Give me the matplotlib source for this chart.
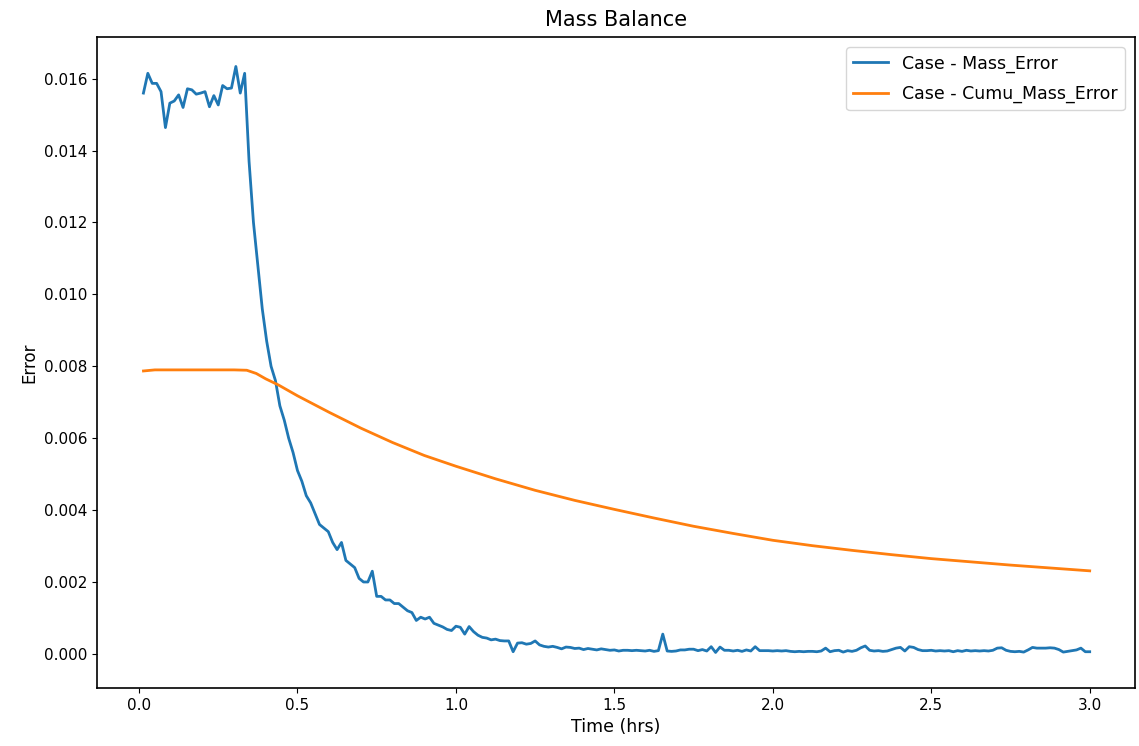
import numpy as np
import matplotlib
matplotlib.use("Agg")
import matplotlib.pyplot as plt

# Time step of the blue series: 1/72 hr (50 s), 216 samples to 3.0 hrs
mass_error = [
    0.01560, 0.01615, 0.01587, 0.01587, 0.01564, 0.01464, 0.01532, 0.01538, 0.01555, 0.01520,
    0.01572, 0.01569, 0.01557, 0.01560, 0.01564, 0.01522, 0.01553, 0.01527, 0.01581, 0.01572,
    0.01574, 0.01634, 0.01560, 0.01615, 0.01370, 0.01200, 0.01080, 0.00960, 0.00870, 0.00800,
    0.00760, 0.00690, 0.00650, 0.00600, 0.00560, 0.00510, 0.00480, 0.00440, 0.00420, 0.00390,
    0.00360, 0.00350, 0.00340, 0.00310, 0.00290, 0.00310, 0.00260, 0.00250, 0.00240, 0.00210,
    0.00200, 0.00200, 0.00230, 0.00160, 0.00160, 0.00150, 0.00150, 0.00140, 0.00140, 0.00130,
    0.00120, 0.00115, 0.00093, 0.00102, 0.00097, 0.00102, 0.00085, 0.00080, 0.00075, 0.00068,
    0.00065, 0.00077, 0.00074, 0.00055, 0.00076, 0.00062, 0.00052, 0.00046, 0.00044, 0.00039,
    0.00041, 0.00037, 0.00036, 0.00036, 0.00006, 0.00030, 0.00031, 0.00027, 0.00029, 0.00036,
    0.00025, 0.00021, 0.00019, 0.00021, 0.00018, 0.00014, 0.00019, 0.00018, 0.00015, 0.00016,
    0.00012, 0.00015, 0.00013, 0.00011, 0.00014, 0.00012, 0.00010, 0.00011, 0.00008, 0.00010,
    0.00010, 0.00009, 0.00010, 0.00009, 0.00008, 0.00010, 0.00007, 0.00009, 0.00055, 0.00008,
    0.00007, 0.00008, 0.00011, 0.00011, 0.00013, 0.00013, 0.00009, 0.00012, 0.00008, 0.00020,
    0.00004, 0.00019, 0.00010, 0.00010, 0.00008, 0.00010, 0.00007, 0.00011, 0.00008, 0.00020,
    0.00009, 0.00009, 0.00009, 0.00008, 0.00009, 0.00008, 0.00009, 0.00007, 0.00006, 0.00007,
    0.00006, 0.00007, 0.00007, 0.00006, 0.00008, 0.00016, 0.00006, 0.00009, 0.00010, 0.00005,
    0.00009, 0.00007, 0.00010, 0.00017, 0.00022, 0.00010, 0.00008, 0.00009, 0.00007, 0.00008,
    0.00012, 0.00016, 0.00018, 0.00008, 0.00020, 0.00018, 0.00012, 0.00009, 0.00009, 0.00010,
    0.00008, 0.00009, 0.00008, 0.00009, 0.00006, 0.00009, 0.00007, 0.00010, 0.00008, 0.00009,
    0.00008, 0.00009, 0.00008, 0.00010, 0.00016, 0.00017, 0.00010, 0.00007, 0.00006, 0.00007,
    0.00005, 0.00011, 0.00018, 0.00016, 0.00016, 0.00016, 0.00017, 0.00016, 0.00012, 0.00005,
    0.00007, 0.00009, 0.00011, 0.00016, 0.00006, 0.00006,
]
time_hrs = np.arange(1, len(mass_error) + 1) / 72.0

cumu_time = [0.014, 0.05, 0.10, 0.20, 0.30, 0.34, 0.37, 0.40, 0.44, 0.50, 0.60, 0.70, 0.80,
             0.90, 1.00, 1.125, 1.25, 1.375, 1.50, 1.625, 1.75, 1.875, 2.00, 2.125, 2.25,
             2.375, 2.50, 2.625, 2.75, 2.875, 3.00]
cumu_mass_error = [0.00787, 0.00790, 0.00790, 0.00790, 0.00790, 0.00789, 0.00780, 0.00765,
                   0.00748, 0.00718, 0.00672, 0.00628, 0.00588, 0.00552, 0.00522, 0.00487,
                   0.00455, 0.00427, 0.00402, 0.00378, 0.00355, 0.00335, 0.00316, 0.00301,
                   0.00288, 0.00276, 0.00265, 0.00256, 0.00247, 0.00239, 0.00231]

x_ticks = [0.0, 0.5, 1.0, 1.5, 2.0, 2.5, 3.0]
y_ticks = [0.000, 0.002, 0.004, 0.006, 0.008, 0.010, 0.012, 0.014, 0.016]

fig = plt.figure(figsize=(11.39, 7.46), dpi=100)
ax = fig.add_axes([0.0852, 0.0777, 0.9113, 0.8727])
ax.plot(time_hrs, mass_error, color="#1f77b4", lw=2.0, label="Case - Mass_Error")
ax.plot(cumu_time, cumu_mass_error, color="#ff7f0e", lw=2.0, label="Case - Cumu_Mass_Error")

ax.set_xlim(-0.1325, 3.143)
ax.set_ylim(-0.00095, 0.01716)
ax.set_xticks(x_ticks)
ax.set_xticklabels([f"{v:.1f}" for v in x_ticks])
ax.set_yticks(y_ticks)
ax.set_yticklabels([f"{v:.3f}" for v in y_ticks])
ax.tick_params(labelsize=11)
ax.set_xlabel("Time (hrs)", fontsize=12.5)
ax.set_ylabel("Error", fontsize=12)
ax.set_title("Mass Balance", fontsize=15, pad=8)
ax.legend(loc="upper right", fontsize=12.5, handlelength=2.0, borderaxespad=0.6,
          labelspacing=0.7)
for s in ax.spines.values():
    s.set_linewidth(1.2)

fig.savefig("out.png", dpi=100)
